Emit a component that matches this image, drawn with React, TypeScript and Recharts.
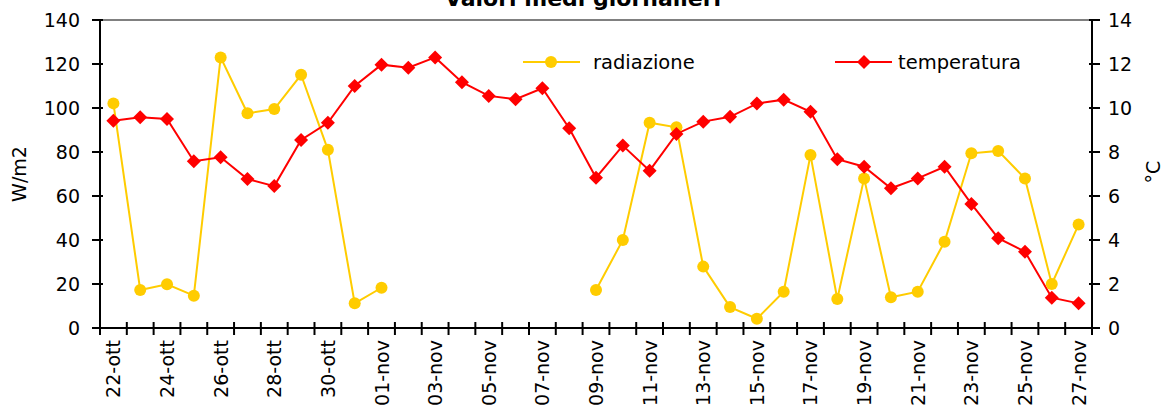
import {
  ComposedChart,
  Legend,
  Line,
  ReferenceLine,
  XAxis,
  YAxis,
} from "recharts";

const dates = [
  "22-ott", "23-ott", "24-ott", "25-ott", "26-ott", "27-ott", "28-ott", "29-ott", "30-ott", "31-ott",
  "01-nov", "02-nov", "03-nov", "04-nov", "05-nov", "06-nov", "07-nov", "08-nov", "09-nov", "10-nov",
  "11-nov", "12-nov", "13-nov", "14-nov", "15-nov", "16-nov", "17-nov", "18-nov", "19-nov", "20-nov",
  "21-nov", "22-nov", "23-nov", "24-nov", "25-nov", "26-nov", "27-nov",
];

const radiazione: (number | null)[] = [
  102.1, 17.3, 19.9, 14.7, 123, 97.6, 99.5, 115.1, 81, 11.2,
  18.3, null, null, null, null, null, null, null, 17.3, 40,
  93.3, 91.2, 27.9, 9.5, 4.2, 16.5, 78.6, 13.2, 68, 14,
  16.5, 39.2, 79.4, 80.5, 68, 20, 47,
];

const temperatura = [
  9.42, 9.58, 9.5, 7.58, 7.76, 6.77, 6.45, 8.55, 9.33, 11.0,
  11.97, 11.83, 12.3, 11.17, 10.55, 10.4, 10.9, 9.08, 6.83, 8.29,
  7.15, 8.82, 9.38, 9.6, 10.2, 10.38, 9.83, 7.67, 7.33, 6.35,
  6.8, 7.33, 5.64, 4.08, 3.47, 1.38, 1.12,
];

const leftTicks = [0, 20, 40, 60, 80, 100, 120, 140];
const rightTicks = [0, 2, 4, 6, 8, 10, 12, 14];

const data = dates.map((label, i) => ({
  label,
  radiazione: radiazione[i],
  temperatura: temperatura[i],
}));

const WIDTH = 1174;
const HEIGHT = 408;
const LEFT_W = 100;
const RIGHT_W = 82;
const BAND = (WIDTH - LEFT_W - RIGHT_W) / dates.length;
const FONT = "'DejaVu Sans', Verdana, sans-serif";
const YELLOW = "#FFCC00";
const RED = "#FF0000";

const XTick = (props: any) => {
  const { x, y, index, payload } = props;
  const half = BAND / 2;
  return (
    <g>
      <line x1={x - half} x2={x - half} y1={y - 6} y2={y + 7} stroke="#000" strokeWidth={2} />
      {index === dates.length - 1 && (
        <line x1={x + half} x2={x + half} y1={y - 6} y2={y + 7} stroke="#000" strokeWidth={2} />
      )}
      {index % 2 === 0 && (
        <text
          transform={`translate(${x + 7},${y + 12}) rotate(-90)`}
          textAnchor="end"
          fontSize={19}
          fontFamily={FONT}
          fill="#000"
        >
          {payload.value}
        </text>
      )}
    </g>
  );
};

const LeftTick = (props: any) => {
  const { x, y, payload } = props;
  return (
    <g>
      <line x1={x - 8} x2={x + 3} y1={y} y2={y} stroke="#000" strokeWidth={2} />
      <text x={x - 20} y={y + 7} textAnchor="end" fontSize={19} fontFamily={FONT} fill="#000">
        {payload.value}
      </text>
    </g>
  );
};

const RightTick = (props: any) => {
  const { x, y, payload } = props;
  return (
    <g>
      <line x1={x - 3} x2={x + 8} y1={y} y2={y} stroke="#000" strokeWidth={2} />
      <text x={x + 16} y={y + 7} textAnchor="start" fontSize={19} fontFamily={FONT} fill="#000">
        {payload.value}
      </text>
    </g>
  );
};

const Diamond = (props: any) => {
  const { cx, cy } = props;
  if (cx == null || cy == null) return <g />;
  const r = 7;
  return (
    <polygon
      points={`${cx},${cy - r} ${cx + r},${cy} ${cx},${cy + r} ${cx - r},${cy}`}
      fill={RED}
    />
  );
};

const LegendBox = () => (
  <div style={{ position: "relative", width: WIDTH, height: 26, fontFamily: FONT, fontSize: 19 }}>
    <svg width={WIDTH} height={26} style={{ position: "absolute", left: 0, top: 0 }}>
      <line x1={523} x2={580} y1={13} y2={13} stroke={YELLOW} strokeWidth={2} />
      <circle cx={551} cy={13} r={6} fill={YELLOW} />
      <line x1={835} x2={892} y1={13} y2={13} stroke={RED} strokeWidth={2} />
      <polygon points="864,6 871,13 864,20 857,13" fill={RED} />
      <text x={593} y={20} fontSize={19.5} fontFamily={FONT} fill="#000">radiazione</text>
      <text x={898} y={20} fontSize={19.5} fontFamily={FONT} fill="#000">temperatura</text>
    </svg>
  </div>
);

export default function App() {
  return (
    <div style={{ position: "absolute", left: 0, top: 0, width: WIDTH, height: HEIGHT, background: "#fff", overflow: "hidden" }}>
      <div
        style={{
          position: "absolute",
          left: 0,
          width: 1166,
          top: -11,
          textAlign: "center",
          fontFamily: FONT,
          fontWeight: "bold",
          fontSize: 22,
          lineHeight: "20px",
          zIndex: 2,
        }}
      >
        Valori medi giornalieri
      </div>
      <ComposedChart
        width={WIDTH}
        height={HEIGHT}
        data={data}
        margin={{ top: 20, right: 0, bottom: 0, left: 0 }}
      >
        <XAxis
          dataKey="label"
          scale="band"
          interval={0}
          height={80}
          tickSize={0}
          tickMargin={0}
          axisLine={{ stroke: "#000", strokeWidth: 2 }}
          tickLine={false}
          tick={<XTick />}
        />
        <YAxis
          yAxisId="left"
          orientation="left"
          width={LEFT_W}
          domain={[0, 140]}
          ticks={leftTicks}
          tickSize={0}
          tickMargin={0}
          axisLine={{ stroke: "#000", strokeWidth: 2 }}
          tickLine={false}
          tick={<LeftTick />}
          label={() => (
            <text
              transform="translate(26,174) rotate(-90)"
              textAnchor="middle"
              fontSize={19}
              fontFamily={FONT}
              fill="#000"
            >
              W/m2
            </text>
          )}
        />
        <YAxis
          yAxisId="right"
          orientation="right"
          width={RIGHT_W}
          domain={[0, 14]}
          ticks={rightTicks}
          tickSize={0}
          tickMargin={0}
          axisLine={{ stroke: "#000", strokeWidth: 2 }}
          tickLine={false}
          tick={<RightTick />}
          label={() => (
            <text
              transform="translate(1160,172) rotate(-90)"
              textAnchor="middle"
              fontSize={19}
              fontFamily={FONT}
              fill="#000"
            >
              °C
            </text>
          )}
        />
        <ReferenceLine yAxisId="left" y={140} stroke="#808080" strokeWidth={2} />
        <Legend
          layout="horizontal"
          verticalAlign="middle"
          align="center"
          wrapperStyle={{ top: 49, left: 0, width: WIDTH }}
          content={() => <LegendBox />}
        />
        <Line
          yAxisId="left"
          dataKey="radiazione"
          name="radiazione"
          stroke={YELLOW}
          strokeWidth={2}
          dot={{ r: 6, fill: YELLOW, stroke: "none" }}
          activeDot={false}
          isAnimationActive={false}
        />
        <Line
          yAxisId="right"
          dataKey="temperatura"
          name="temperatura"
          stroke={RED}
          strokeWidth={2}
          dot={<Diamond />}
          activeDot={false}
          isAnimationActive={false}
        />
      </ComposedChart>
    </div>
  );
}
